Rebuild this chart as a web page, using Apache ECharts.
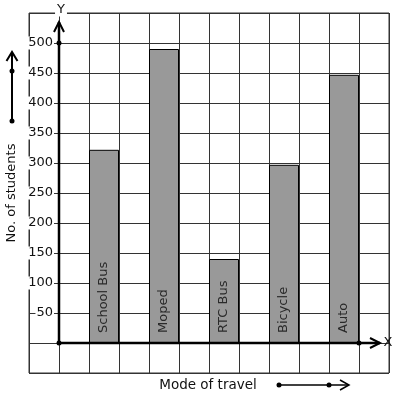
<!DOCTYPE html>
<html>
<head>
<meta charset="utf-8">
<script src="https://cdn.jsdelivr.net/npm/echarts@6/dist/echarts.min.js"></script>
<style>html,body{margin:0;padding:0;background:#fff}#c{width:397px;height:399px}</style>
</head>
<body>
<div id="c"></div>
<script>
var modes = ['School Bus', 'Moped', 'RTC Bus', 'Bicycle', 'Auto'];
var students = [322, 490, 140, 297, 447];
var yTicks = [50, 100, 150, 200, 250, 300, 350, 400, 450, 500];
var slotCount = 12;

// place each bar in every other grid column (starting at column 2)
var slots = [], slotValues = [];
for (var k = 0; k < slotCount; k++) { slots.push('s' + k); slotValues.push(null); }
var slotLabel = {};
modes.forEach(function (m, i) { var s = 2 + 2 * i; slotValues[s] = students[i]; slotLabel[s] = m; });

var FONT = 'DejaVu Sans';
var chart = echarts.init(document.getElementById('c'), null, {renderer: 'canvas'});
chart.setOption({
  animation: false,
  backgroundColor: '#fff',
  grid: {left: 29, right: 8, top: 13, bottom: 26, show: true, borderColor: '#333', borderWidth: 1},
  xAxis: [{
    type: 'category', data: slots, boundaryGap: true,
    axisLine: {show: false}, axisTick: {show: false}, axisLabel: {show: false},
    splitLine: {show: false}
  }, {
    type: 'value', min: -1, max: 11, interval: 1, position: 'bottom',
    axisLine: {show: false}, axisTick: {show: false}, axisLabel: {show: false},
    splitLine: {show: true, lineStyle: {color: '#333', width: 1}}
  }],
  yAxis: {
    type: 'value', min: -50, max: 550, interval: 50,
    axisLine: {show: false}, axisTick: {show: false},
    splitLine: {show: true, lineStyle: {color: '#333', width: 1}},
    axisLabel: {
      inside: true, margin: 25, align: 'right',
      fontFamily: FONT, fontSize: 13, color: '#111',
      backgroundColor: '#fff', padding: [0, 1, 0, 1],
      formatter: function (v) { return yTicks.indexOf(v) >= 0 ? String(v) : ''; }
    }
  },
  series: [{
    type: 'bar', xAxisIndex: 0, yAxisIndex: 0,
    data: slotValues, barWidth: '100%', z: 3,
    itemStyle: {color: '#999999', borderColor: '#000', borderWidth: 1},
    label: {
      show: true, position: 'insideBottom', distance: 10, rotate: 90,
      align: 'left', verticalAlign: 'middle',
      fontFamily: FONT, fontSize: 13, color: '#2a2a2a',
      formatter: function (p) { return slotLabel[p.dataIndex] || ''; }
    }
  }]
});

function px(x, y) { return chart.convertToPixel({xAxisIndex: 1, yAxisIndex: 0}, [x, y]); }
var o = px(0, 0), yTop = px(0, 535), y500 = px(0, 500), xEnd = px(10.7, 0), xDot = px(10, 0);
var g = [];
// y axis
g.push({type: 'line', shape: {x1: o[0], y1: o[1], x2: yTop[0], y2: yTop[1]}, style: {stroke: '#000', lineWidth: 2.5}, z: 10});
g.push({type: 'polyline', shape: {points: [[yTop[0] - 5, yTop[1] + 10], [yTop[0], yTop[1]], [yTop[0] + 5, yTop[1] + 10]]}, style: {stroke: '#000', lineWidth: 2, fill: null}, z: 10});
// x axis
g.push({type: 'line', shape: {x1: o[0], y1: o[1], x2: xEnd[0], y2: xEnd[1]}, style: {stroke: '#000', lineWidth: 2.5}, z: 10});
g.push({type: 'polyline', shape: {points: [[xEnd[0] - 10, xEnd[1] - 5], [xEnd[0], xEnd[1]], [xEnd[0] - 10, xEnd[1] + 5]]}, style: {stroke: '#000', lineWidth: 2, fill: null}, z: 10});
[o, y500, xDot].forEach(function (p) { g.push({type: 'circle', shape: {cx: p[0], cy: p[1], r: 2.5}, style: {fill: '#000'}, z: 11}); });
g.push({type: 'text', x: xEnd[0] + 8, y: xEnd[1], style: {text: 'X', font: '13px "DejaVu Sans"', fill: '#111', align: 'center', verticalAlign: 'middle'}, z: 12});
g.push({type: 'text', x: yTop[0] + 2, y: 10, style: {text: 'Y', font: '13px "DejaVu Sans"', fill: '#111', align: 'center', verticalAlign: 'middle', backgroundColor: '#fff', padding: [0, 2]}, z: 12});
// left direction arrow
g.push({type: 'line', shape: {x1: 12, y1: 121, x2: 12, y2: 52}, style: {stroke: '#000', lineWidth: 2}, z: 10});
g.push({type: 'polyline', shape: {points: [[6.5, 61], [12, 52], [17.5, 61]]}, style: {stroke: '#000', lineWidth: 2, fill: null}, z: 10});
g.push({type: 'circle', shape: {cx: 12, cy: 121, r: 2.5}, style: {fill: '#000'}, z: 11});
g.push({type: 'circle', shape: {cx: 12, cy: 71, r: 2.5}, style: {fill: '#000'}, z: 11});
// bottom direction arrow
g.push({type: 'line', shape: {x1: 279, y1: 385, x2: 348, y2: 385}, style: {stroke: '#000', lineWidth: 1.5}, z: 10});
g.push({type: 'polyline', shape: {points: [[340, 380], [349, 385], [340, 390]]}, style: {stroke: '#000', lineWidth: 1.5, fill: null}, z: 10});
g.push({type: 'circle', shape: {cx: 279, cy: 385, r: 2.5}, style: {fill: '#000'}, z: 11});
g.push({type: 'circle', shape: {cx: 329, cy: 385, r: 2.5}, style: {fill: '#000'}, z: 11});
// axis titles
g.push({type: 'text', x: 12, y: 193, rotation: Math.PI / 2, style: {text: 'No. of students', font: '13px "DejaVu Sans"', fill: '#111', align: 'center', verticalAlign: 'middle'}, z: 12});
g.push({type: 'text', x: 208, y: 385, style: {text: 'Mode of travel', font: '13.5px "DejaVu Sans"', fill: '#111', align: 'center', verticalAlign: 'middle'}, z: 12});
chart.setOption({graphic: g});
</script>
</body>
</html>
